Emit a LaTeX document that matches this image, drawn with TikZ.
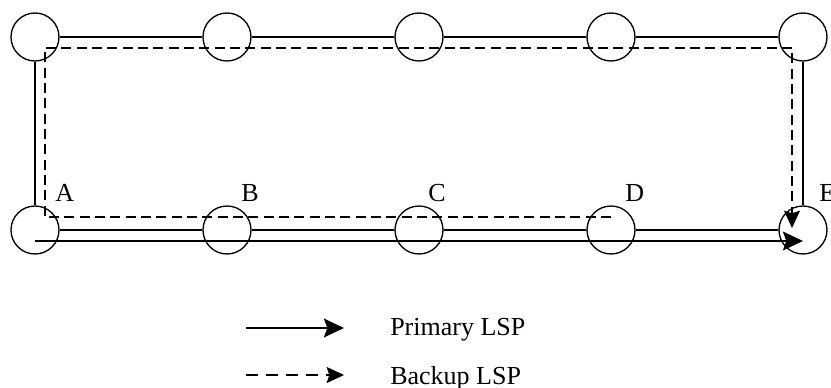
\documentclass[tikz,border=0pt]{standalone}
\usepackage{fontspec}
\setmainfont{Liberation Serif}
\usetikzlibrary{calc}
\usetikzlibrary{arrows.meta}

\begin{document}
\begin{tikzpicture}[x=0.75pt, y=-0.75pt,
% define styles here
router/.style={circle, draw, line width=1pt, minimum size=36pt, inner sep=0pt},
link/.style={line width=1pt},
primary/.style={line width=2pt, -{Stealth[length=15pt, width=14pt, inset=2.5pt]}},
backup/.style={line width=1pt, dash pattern=on 7.5pt off 4pt, -{Stealth[length=13pt, width=12pt, inset=2pt]}},
backupkey/.style={backup, dash pattern=on 9pt off 6pt},
lbl/.style={font=\fontsize{19.5}{22}\selectfont, inner sep=0pt, anchor=base west}
]
\useasboundingbox (0,0) rectangle (831,388);

% upper row
\node[router] (t1) at (35,37) {};
\node[router] (t2) at (227,37) {};
\node[router] (t3) at (419,37) {};
\node[router] (t4) at (611,37) {};
\node[router] (t5) at (803,37) {};

% lower row
\node[router] (A) at (35,230) {};
\node[router] (B) at (227,230) {};
\node[router] (C) at (419,230) {};
\node[router] (D) at (611,230) {};
\node[router] (E) at (803,230) {};

\node[lbl] (labA) at (55,202) {A};
\node[lbl] (labB) at (241,202) {B};
\node[lbl] (labC) at (428,202) {C};
\node[lbl] (labD) at (625,202) {D};
\node[lbl] (labE) at (819,202) {E};

% links
\draw[link] (t1) -- (t2);
\draw[link] (t2) -- (t3);
\draw[link] (t3) -- (t4);
\draw[link] (t4) -- (t5);
\draw[link] (t1) -- (A);
\draw[link] (t5) -- (E);
\draw[link] (A) -- (B);
\draw[link] (B) -- (C);
\draw[link] (C) -- (D);
\draw[link] (D) -- (E);

% LSPs
\draw[primary] (A.center) ++(0,11) -- ($(E)+(0,11)$);
\draw[backup] ($(D)+(0,-13)$) -| ($(t1)+(10,11)$) -| ($(E)+(-11,-2)$);

% legend
\coordinate (p1) at (246,328);
\coordinate (p2) at (344,328);
\coordinate (b1) at (246,375);
\coordinate (b2) at (344,375);
\draw[primary] (p1) -- (p2);
\draw[backupkey] (b1) -- (b2);
\node[lbl] (ptext) at (390,335) {Primary LSP};
\node[lbl] (btext) at (390,384) {Backup LSP};
\end{tikzpicture}
\end{document}
